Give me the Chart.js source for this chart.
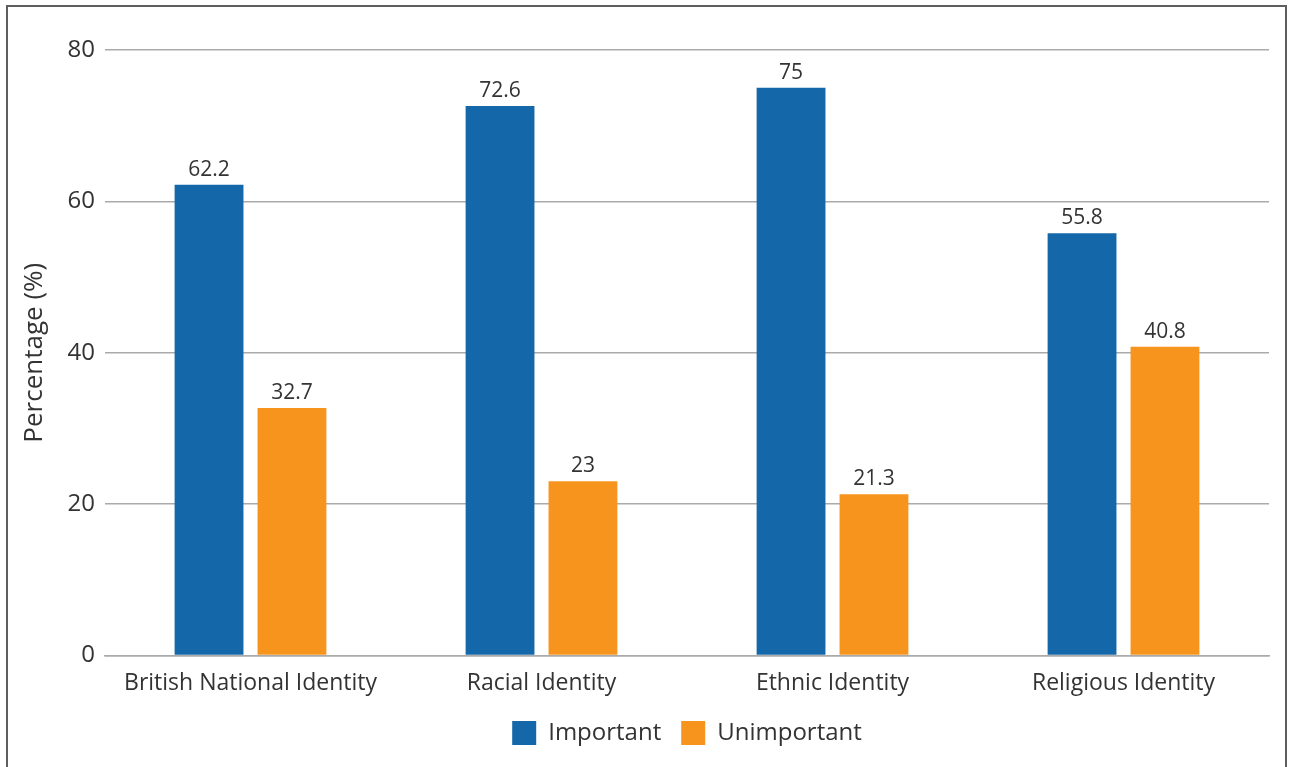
<!DOCTYPE html>
<html>
<head>
<meta charset="utf-8">
<script src="https://cdn.jsdelivr.net/npm/chart.js@4/dist/chart.umd.min.js"></script>
<style>
  html, body { margin: 0; padding: 0; background: #fff; overflow: hidden; }
  #frame { position: absolute; left: 6px; top: 5px; width: 1281px; height: 800px; border: 2px solid #5e5e5e; box-sizing: border-box; }
  #chart { position: absolute; left: 0; top: 0; }
</style>
</head>
<body>
<div id="frame"></div>
<canvas id="chart" width="1292" height="767"></canvas>
<script>
const categories = ['British National Identity', 'Racial Identity', 'Ethnic Identity', 'Religious Identity'];
const importantValues = [62.2, 72.6, 75, 55.8];
const unimportantValues = [32.7, 23, 21.3, 40.8];
const yTicks = [0, 20, 40, 60, 80];

const FONT = "'Open Sans', 'DejaVu Sans', sans-serif";
const TEXT = '#333333';

// Writes each bar's value just above it
const valueLabels = {
  id: 'valueLabels',
  afterDatasetsDraw(chart) {
    const ctx = chart.ctx;
    ctx.save();
    ctx.font = `21px ${FONT}`;
    ctx.fillStyle = TEXT;
    ctx.textAlign = 'center';
    ctx.textBaseline = 'alphabetic';
    chart.data.datasets.forEach((ds, i) => {
      chart.getDatasetMeta(i).data.forEach((bar, j) => {
        ctx.fillText(String(ds.data[j]), bar.x, bar.y - 9);
      });
    });
    ctx.restore();
  }
};

// Lifts the legend row a little closer to the category labels
const legendLift = {
  id: 'legendLift',
  afterLayout(chart) {
    const lg = chart.legend;
    if (lg) { lg.top -= 10; lg.bottom -= 10; }
  }
};

new Chart(document.getElementById('chart'), {
  type: 'bar',
  data: {
    labels: categories,
    datasets: [
      { label: 'Important', data: importantValues, backgroundColor: '#1467a8', borderWidth: 0 },
      { label: 'Unimportant', data: unimportantValues, backgroundColor: '#f7941e', borderWidth: 0 }
    ]
  },
  options: {
    responsive: false,
    animation: false,
    events: [],
    layout: { padding: { top: 50, right: 23, bottom: 2, left: 0 } },
    datasets: { bar: { categoryPercentage: 0.57, barPercentage: 0.83 } },
    scales: {
      x: {
        grid: { display: false, drawTicks: false },
        border: { display: true, color: '#aaaaaa', width: 1.5 },
        ticks: { color: TEXT, font: { family: FONT, size: 23 }, padding: 14 }
      },
      y: {
        min: 0, max: 80,
        afterFit(scale) { scale.width = 105; },
        afterBuildTicks(scale) { scale.ticks = yTicks.map(v => ({ value: v })); },
        grid: { color: '#aaaaaa', lineWidth: 1.5, drawTicks: false },
        border: { display: false },
        ticks: { color: TEXT, font: { family: FONT, size: 24 }, padding: 10 },
        title: { display: true, text: 'Percentage (%)', color: TEXT, font: { family: FONT, size: 26 }, padding: { top: 19, bottom: 0 } }
      }
    },
    plugins: {
      legend: {
        position: 'bottom',
        fullSize: false,
        labels: { color: TEXT, font: { family: FONT, size: 24 }, boxWidth: 24, boxHeight: 24, padding: 20 }
      },
      tooltip: { enabled: false }
    }
  },
  plugins: [valueLabels, legendLift]
});
</script>
</body>
</html>
